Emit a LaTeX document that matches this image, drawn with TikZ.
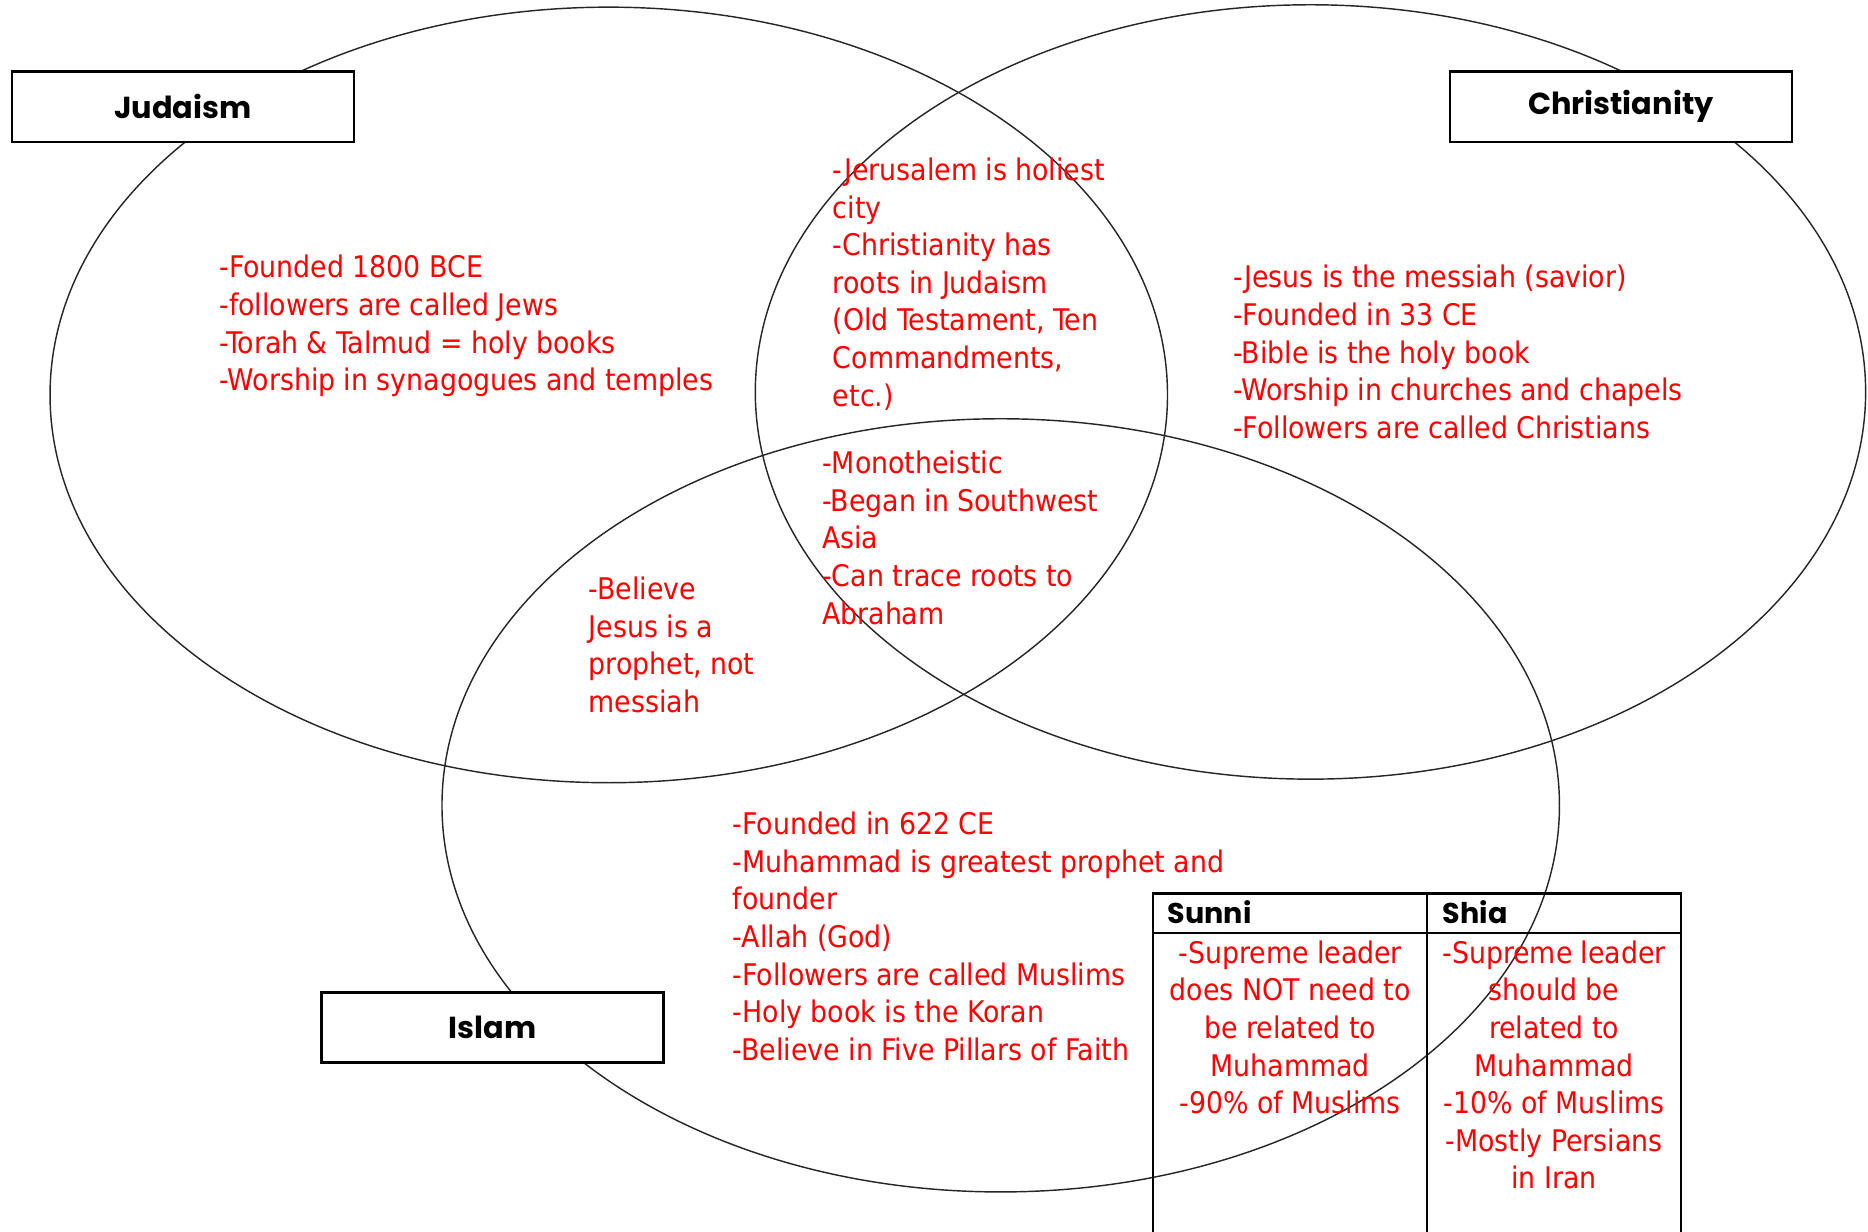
\documentclass[tikz,border=0pt]{standalone}
\usepackage{fontspec}
\setmainfont{DejaVu Sans Condensed}
\newfontfamily\labelfont{Poppins}
\begin{document}
\begin{tikzpicture}[x=1pt,y=-1pt]
\tikzset{
  venn/.style={draw=black!85, line width=1.2pt},
  title/.style={draw=black, line width=2pt, fill=white, minimum width=287pt, minimum height=59pt, inner sep=0pt,
    font=\labelfont\bfseries\fontsize{25.5}{28}\selectfont},
  head/.style={anchor=base west, inner sep=0pt, font=\labelfont\bfseries\fontsize{24}{28}\selectfont},
  note/.style={text=red, align=left, anchor=base west, inner sep=0pt, font=\fontsize{25}{31.6}\selectfont},
  cnote/.style={note, align=center, anchor=base},
  tabline/.style={draw=black, line width=2pt}
}
\useasboundingbox (0,0) rectangle (1568,1034);
% ellipses
\draw[venn] (511,331.5) ellipse [x radius=469, y radius=325.5];
\draw[venn] (1100,329) ellipse [x radius=466, y radius=325];
\draw[venn] (840,676) ellipse [x radius=469, y radius=324.5];
% title boxes
\node[title] (jud) at (153.5,89.5) {Judaism};
\node[title] (chr) at (1360.5,89.5) {Christianity};
\node[title] (isl) at (413.5,862.5) {Islam};
% texts (anchored at the baseline of their last line)
\node[note] (tj) at (184,328) {-Founded 1800 BCE\\-followers are called Jews\\-Torah \& Talmud = holy books\\-Worship in synagogues and temples};
\node[note] (tjc) at (699,341) {-Jerusalem is holiest\\city\\-Christianity has\\roots in Judaism\\(Old Testament, Ten\\Commandments,\\etc.)};
\node[note] (tc) at (1035,368) {-Jesus is the messiah (savior)\\-Founded in 33 CE\\-Bible is the holy book\\-Worship in churches and chapels\\-Followers are called Christians};
\node[note] (tall) at (690,524) {-Monotheistic\\-Began in Southwest\\Asia\\-Can trace roots to\\Abraham};
\node[note] (tji) at (494,598) {-Believe\\Jesus is a\\prophet, not\\messiah};
\node[note] (ti) at (615,890) {-Founded in 622 CE\\-Muhammad is greatest prophet and\\founder\\-Allah (God)\\-Followers are called Muslims\\-Holy book is the Koran\\-Believe in Five Pillars of Faith};
% table
\coordinate (tl) at (968,750);
\coordinate (tr) at (1411,750);
\coordinate (bl) at (968,1034);
\coordinate (br) at (1411,1034);
\coordinate (mt) at (1198,750);
\coordinate (mb) at (1198,1034);
\coordinate (hl) at (968,783);
\coordinate (hr) at (1411,783);
\draw[tabline] (bl) -- (tl) -- (tr) -- (br);
\draw[tabline] (mt) -- (mb);
\draw[tabline] (hl) -- (hr);
\node[head] (sunni) at (980,775) {Sunni};
\node[head] (shia) at (1211,775) {Shia};
\node[cnote] (tsunni) at (1083,935) {-Supreme leader\\does NOT need to\\be related to\\Muhammad\\-90\% of Muslims};
\node[cnote] (tshia) at (1304.5,998) {-Supreme leader\\should be\\related to\\Muhammad\\-10\% of Muslims\\-Mostly Persians\\in Iran};
\end{tikzpicture}
\end{document}
